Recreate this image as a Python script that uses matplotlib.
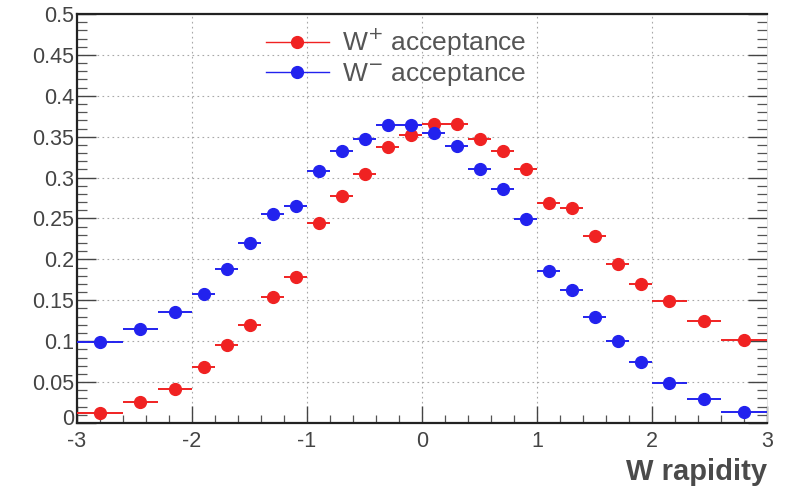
import numpy as np
import matplotlib
matplotlib.use('Agg')
import matplotlib.pyplot as plt
import matplotlib.transforms as mtransforms
from matplotlib.lines import Line2D
from matplotlib.ticker import MultipleLocator

plt.rcParams['font.family'] = ['Liberation Sans', 'DejaVu Sans']
plt.rcParams['axes.unicode_minus'] = False

# rapidity bins (centres and half widths)
y_center = [-2.8, -2.45, -2.15, -1.9, -1.7, -1.5, -1.3, -1.1, -0.9, -0.7, -0.5, -0.3, -0.1,
            0.1, 0.3, 0.5, 0.7, 0.9, 1.1, 1.3, 1.5, 1.7, 1.9, 2.15, 2.45, 2.8]
half_width = [0.2, 0.15, 0.15, 0.1, 0.1, 0.1, 0.1, 0.1, 0.1, 0.1, 0.1, 0.1, 0.1,
              0.1, 0.1, 0.1, 0.1, 0.1, 0.1, 0.1, 0.1, 0.1, 0.1, 0.15, 0.15, 0.2]

acc_wplus = [0.012, 0.026, 0.042, 0.069, 0.095, 0.120, 0.154, 0.179, 0.244, 0.277, 0.304, 0.337, 0.352,
             0.366, 0.366, 0.347, 0.333, 0.311, 0.269, 0.263, 0.228, 0.194, 0.170, 0.149, 0.125, 0.101]
acc_wminus = [0.099, 0.115, 0.136, 0.158, 0.188, 0.220, 0.256, 0.265, 0.308, 0.332, 0.347, 0.364, 0.364,
              0.354, 0.339, 0.310, 0.286, 0.249, 0.186, 0.163, 0.129, 0.100, 0.074, 0.049, 0.029, 0.013]

red = '#f02222'
blue = '#2222ee'
txt = '#444444'

fig = plt.figure(figsize=(7.9, 4.91), dpi=100)
ax = fig.add_axes([0.0975, 0.1385, 0.8735, 0.833])

ax.errorbar(y_center, acc_wplus, xerr=half_width, fmt='o', color=red, ms=8.5,
            elinewidth=1.4, capsize=0, zorder=3)
ax.errorbar(y_center, acc_wminus, xerr=half_width, fmt='o', color=blue, ms=8.5,
            elinewidth=1.4, capsize=0, zorder=3)

ax.set_xlim(-3, 3)
ax.set_ylim(0, 0.5)

ax.xaxis.set_major_locator(MultipleLocator(1))
ax.xaxis.set_minor_locator(MultipleLocator(0.2))
ax.yaxis.set_minor_locator(MultipleLocator(0.01))
ax.set_yticks(np.arange(0, 0.501, 0.05))
ax.set_yticklabels(['0', '0.05', '0.1', '0.15', '0.2', '0.25', '0.3', '0.35', '0.4', '0.45', '0.5'])

ax.tick_params(which='major', direction='in', length=14, width=1.0, color='#444444',
               labelsize=15.5, labelcolor=txt, right=True, top=False, pad=2)
ax.tick_params(which='minor', direction='in', length=7, width=0.9, color='#555555',
               right=True, top=False)
ax.tick_params(axis='x', which='major', length=12, pad=6)
ax.tick_params(axis='x', which='minor', length=6)

# lift the "0" on the y axis a little so it clears the "-3" below it
zero_lbl = ax.get_yticklabels()[0]
zero_lbl.set_transform(zero_lbl.get_transform() +
                       mtransforms.ScaledTranslation(0, 4 / 72, fig.dpi_scale_trans))

ax.grid(True, which='major', color='#a8a8a8', linestyle=(0, (1.5, 3)), linewidth=0.8)
ax.set_axisbelow(True)

for side in ['left', 'bottom', 'top']:
    ax.spines[side].set_linewidth(1.6)
    ax.spines[side].set_color('#222222')
ax.spines['right'].set_linewidth(0.6)
ax.spines['right'].set_color('#dddddd')

ax.text(1.0, -0.085, 'W rapidity', transform=ax.transAxes, ha='right', va='top',
        fontsize=21, fontweight='bold', color='#4a4a4a')

handles = [
    Line2D([], [], color=red, marker='o', ms=8.5, lw=1.0),
    Line2D([], [], color=blue, marker='o', ms=8.5, lw=1.0),
]
ax.legend(handles, ['W$^{+}$ acceptance', 'W$^{-}$ acceptance'], loc='upper left',
          bbox_to_anchor=(0.243, 1.02), frameon=False, fontsize=19, labelcolor='#555555',
          handlelength=2.4, handletextpad=0.5, labelspacing=0.12, borderpad=0.3)

fig.savefig('out.png', dpi=100)
